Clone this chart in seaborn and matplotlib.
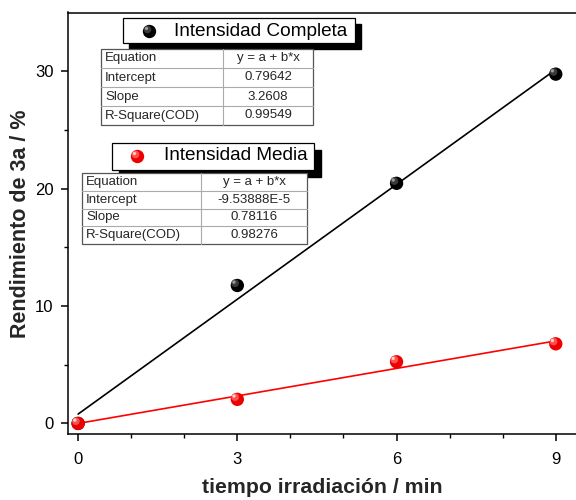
import numpy as np
import pandas as pd
import matplotlib
matplotlib.use("Agg")
import matplotlib.pyplot as plt
import seaborn as sns
from matplotlib.patches import Rectangle
from matplotlib.lines import Line2D
from matplotlib.transforms import ScaledTranslation

# --- data -------------------------------------------------------------
tiempo = [0, 3, 6, 9]
rend_completa = [0.0, 11.75, 20.45, 29.75]
rend_media = [0.0, 2.05, 5.25, 6.78]

fit_completa = {"Equation": "y = a + b*x", "Intercept": 0.79642,
                "Slope": 3.2608, "R-Square(COD)": 0.99549}
fit_media = {"Equation": "y = a + b*x", "Intercept": -9.53888e-5,
             "Slope": 0.78116, "R-Square(COD)": 0.98276}
fit_labels_completa = ["y = a + b*x", "0.79642", "3.2608", "0.99549"]
fit_labels_media = ["y = a + b*x", "-9.53888E-5", "0.78116", "0.98276"]
row_names = ["Equation", "Intercept", "Slope", "R-Square(COD)"]

x_ticks = [0, 3, 6, 9]
y_ticks = [0, 10, 20, 30]

sns.set_theme(style="ticks")
plt.rcParams["font.family"] = ["Liberation Sans", "DejaVu Sans"]

W, H = 576, 500
fig = plt.figure(figsize=(W / 100, H / 100), dpi=100)


def fx(px):
    return px / W


def fy(py):
    return 1 - py / H


ax = fig.add_axes([fx(67.5), fy(434), fx(577) - fx(67.5), fy(12.5) - fy(434)])

# points and fitted lines
xs = np.array([min(tiempo), max(tiempo)])
lines = pd.DataFrame({
    "t": np.concatenate([xs, xs]),
    "y": np.concatenate([fit_completa["Intercept"] + fit_completa["Slope"] * xs,
                         fit_media["Intercept"] + fit_media["Slope"] * xs]),
    "serie": ["Intensidad Completa"] * 2 + ["Intensidad Media"] * 2,
})
palette = {"Intensidad Completa": "black", "Intensidad Media": "#ff0000"}
sns.lineplot(data=lines, x="t", y="y", hue="serie", palette=palette,
             linewidth=1.2, legend=False, ax=ax, zorder=2)

# shaded spheres: base disc plus lighter offset highlights
shades = {
    "black": [("#000000", 9.6, 0, 0), ("#3a3a3a", 5.5, -1.6, 1.6),
              ("#9a9a9a", 2.4, -2.4, 2.4)],
    "#ff0000": [("#ee0000", 9.6, 0, 0), ("#ff5050", 5.5, -1.6, 1.6),
                ("#ffd0d0", 2.4, -2.4, 2.4)],
}
order = [("Intensidad Completa", rend_completa), ("Intensidad Media", rend_media)]
for name, ys in order:
    col = palette[name]
    for k, (c, ms, dx, dy) in enumerate(shades[col]):
        sub = pd.DataFrame({"t": tiempo, "y": ys})
        sns.scatterplot(data=sub, x="t", y="y", color=c, s=ms ** 2,
                        edgecolor="none", linewidth=0, ax=ax, zorder=3 + k,
                        legend=False)
        coll = ax.collections[-1]
        coll.set_offset_transform(
            ax.transData + ScaledTranslation(dx / 72, dy / 72, fig.dpi_scale_trans))

ax.set_xlim(-0.2, 9.4)
ax.set_ylim(-0.9, 35)
ax.set_xticks(x_ticks)
ax.set_yticks(y_ticks)
ax.set_xticks([1, 2, 4, 5, 7, 8], minor=True)
ax.set_yticks([5, 15, 25], minor=True)
ax.tick_params(which="major", direction="out", length=5, width=1.1,
               labelsize=12, color="black", labelcolor="black", pad=5)
ax.tick_params(which="minor", direction="out", length=3, width=1.0,
               color="black")
ax.tick_params(axis="x", which="major", pad=8)
for side in ["left", "bottom", "top"]:
    ax.spines[side].set_linewidth(1.1)
    ax.spines[side].set_color("black")
ax.spines["right"].set_visible(False)
ax.set_xlabel("tiempo irradiación / min", fontsize=15.3, fontweight="bold",
              labelpad=8)
ax.set_ylabel("Rendimiento de 3a / %", fontsize=15.5, fontweight="bold",
              labelpad=3)


# --- legend boxes and fit tables ------------------------------------
def legend_box(x0, x1, y0, y1, mx, my, tx, text, color, off):
    fig.add_artist(Rectangle((fx(x0 + off), fy(y1 + off)), fx(x1) - fx(x0),
                             fy(y0) - fy(y1), transform=fig.transFigure,
                             facecolor="black", edgecolor="black", zorder=5))
    fig.add_artist(Rectangle((fx(x0), fy(y1)), fx(x1) - fx(x0), fy(y0) - fy(y1),
                             transform=fig.transFigure, facecolor="white",
                             edgecolor="black", linewidth=0.9, zorder=6))
    for k, (c, ms, dx, dy) in enumerate(shades[color]):
        fig.add_artist(Line2D([fx(mx + dx * 100 / 72)], [fy(my - dy * 100 / 72)],
                              transform=fig.transFigure, marker="o",
                              markersize=ms, color=c, markeredgewidth=0,
                              linestyle="none", zorder=7 + k))
    fig.text(fx(tx), fy(my), text, fontsize=13.7, ha="left", va="center",
             color="black", zorder=10)


def fit_table(x0, x1, xd, y0, y1, values):
    n = len(row_names)
    fig.add_artist(Rectangle((fx(x0), fy(y1)), fx(x1) - fx(x0), fy(y0) - fy(y1),
                             transform=fig.transFigure, facecolor="white",
                             edgecolor="#555555", linewidth=0.9, zorder=11))
    rh = (y1 - y0) / n
    for i in range(1, n):
        yy = y0 + i * rh
        fig.add_artist(Line2D([fx(x0), fx(x1)], [fy(yy), fy(yy)],
                              transform=fig.transFigure, color="#aaaaaa",
                              linewidth=0.8, zorder=12))
    fig.add_artist(Line2D([fx(xd), fx(xd)], [fy(y0), fy(y1)],
                          transform=fig.transFigure, color="#aaaaaa",
                          linewidth=0.8, zorder=12))
    for i, (name, val) in enumerate(zip(row_names, values)):
        yc = y0 + (i + 0.5) * rh
        fig.text(fx(x0 + 4), fy(yc), name, fontsize=9.5, ha="left",
                 va="center", zorder=13)
        fig.text(fx((xd + x1) / 2), fy(yc), val, fontsize=9.5, ha="center",
                 va="center", zorder=13)


legend_box(123, 355, 18, 43, 149, 31, 174, "Intensidad Completa", "black", 6)
fit_table(101, 313, 223, 49, 125, fit_labels_completa)
legend_box(112, 314, 143, 170, 137, 156, 164, "Intensidad Media", "#ff0000", 7)
fit_table(82, 307, 201, 173, 244, fit_labels_media)

fig.savefig("out.png", dpi=100)
